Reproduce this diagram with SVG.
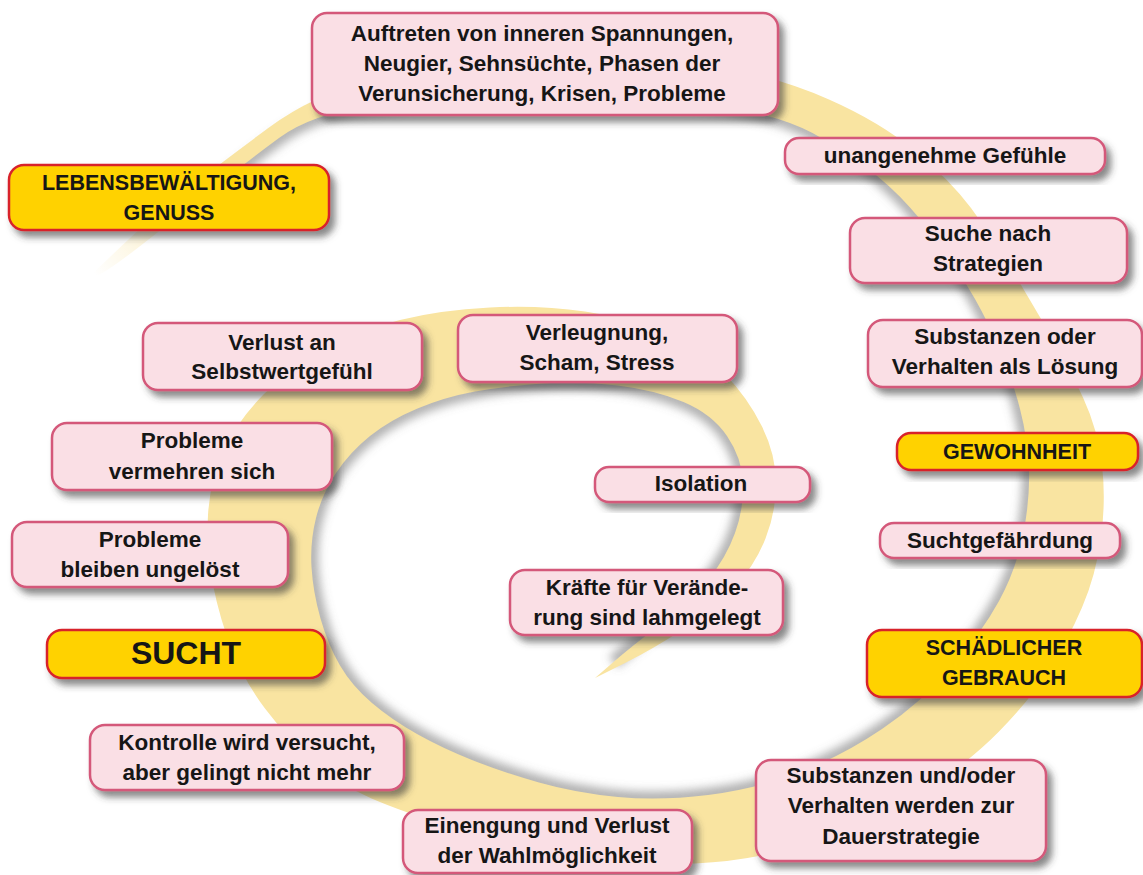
<svg xmlns="http://www.w3.org/2000/svg" width="1143" height="875" viewBox="0 0 1143 875">
<defs>
<filter id="ds" x="-10%" y="-20%" width="125%" height="150%">
<feGaussianBlur in="SourceAlpha" stdDeviation="3.5"/>
<feOffset dx="5" dy="6" result="b"/>
<feFlood flood-color="#3a3a3a" flood-opacity="0.6"/>
<feComposite in2="b" operator="in" result="s"/>
<feMerge><feMergeNode in="s"/><feMergeNode in="SourceGraphic"/></feMerge>
</filter>
<filter id="blur" x="-10%" y="-10%" width="120%" height="120%">
<feGaussianBlur stdDeviation="5"/>
</filter>
<linearGradient id="fade" gradientUnits="userSpaceOnUse" x1="95" y1="275" x2="225" y2="170">
<stop offset="0" stop-color="#fff" stop-opacity="1"/>
<stop offset="1" stop-color="#fff" stop-opacity="0"/>
</linearGradient>
<style>
.pk rect{fill:#fadfe5;stroke:#d4597a;stroke-width:2.5;filter:url(#ds)}
.yl rect{fill:#ffd200;stroke:#d8242c;stroke-width:2.5;filter:url(#ds)}
text{font-family:"Liberation Sans",Arial,sans-serif;font-weight:bold;font-size:22.5px;fill:#161616;text-anchor:middle}
.cap{font-size:21.5px}
.big{font-size:32px}
</style>
</defs>
<rect width="1143" height="875" fill="#fff"/>
<g id="spiral">
<path d="M 613.5,662 Q 632,646 661,624 Q 690,602 708,580 Q 726,558 735,533 Q 744,508 743,483 Q 742,458 727,436 Q 712,414 683.5,402 Q 655,390 617.5,385.5 Q 580,381 542.5,383.5 Q 505,386 475,391.5 Q 445,397 417.5,408.5 Q 390,420 370,436 Q 350,452 336,473 Q 322,494 316,518 Q 310,542 311.5,567 Q 313,592 320.5,618.5 Q 328,645 340,665.5 Q 352,686 372,703 Q 392,720 417,734 Q 442,748 472,760 Q 502,772 539,782.5 Q 576,793 618,797 Q 660,801 708,795 Q 756,789 799,772.5 Q 842,756 882,729 Q 922,702 952,667 Q 982,632 999,601 Q 1016,570 1023,535 Q 1030,500 1029,470 Q 1028,440 1020,409 Q 1012,378 1000,350 Q 988,322 975,299 Q 962,276 946,253 Q 930,230 910,207.5 Q 890,185 865,166.5 Q 840,148 812.5,133 Q 785,118 737.5,109 Q 690,100 625,97.5 Q 560,95 495,97.5 Q 430,100 371.5,106.5 Q 313,113 279,138 Q 245,163 210,191" fill="none" stroke="#6f6f6f" stroke-width="14" stroke-opacity="0.55" filter="url(#blur)"/>
<path fill="#f9e4a1" d="M 88,278 L 121.5,246 Q 155,214 190,187 Q 225,160 269,127.5 Q 313,95 371.5,79.5 Q 430,64 487.5,59.5 Q 545,55 607.5,57.5 Q 670,60 724,68.5 Q 778,77 829,99.5 Q 880,122 915,151 Q 950,180 971,208 Q 992,236 1011,268 Q 1030,300 1049,332.5 Q 1068,365 1083,397.5 Q 1098,430 1102,465 Q 1106,500 1101,537.5 Q 1096,575 1082,607.5 Q 1068,640 1049,670 Q 1030,700 999,731.5 Q 968,763 926.5,789 Q 885,815 840,832.5 Q 795,850 747.5,858 Q 700,866 650,863 Q 600,860 550,851 Q 500,842 451.5,827 Q 403,812 371.5,798.5 Q 340,785 312.5,760 Q 285,735 265,708.5 Q 245,682 232.5,651 Q 220,620 213,585 Q 206,550 208,515 Q 210,480 224,450 Q 238,420 264,394 Q 290,368 325,349 Q 360,330 400,320 Q 440,310 490,307.5 Q 540,305 585,311.5 Q 630,318 665,333 Q 700,348 724,373 Q 748,398 762,426.5 Q 776,455 776,483.5 Q 776,512 765.5,538.5 Q 755,565 735,586.5 Q 715,608 685,628 Q 655,648 625,663 L 595,678 L 613.5,662 Q 632,646 661,624 Q 690,602 708,580 Q 726,558 735,533 Q 744,508 743,483 Q 742,458 727,436 Q 712,414 683.5,402 Q 655,390 617.5,385.5 Q 580,381 542.5,383.5 Q 505,386 475,391.5 Q 445,397 417.5,408.5 Q 390,420 370,436 Q 350,452 336,473 Q 322,494 316,518 Q 310,542 311.5,567 Q 313,592 320.5,618.5 Q 328,645 340,665.5 Q 352,686 372,703 Q 392,720 417,734 Q 442,748 472,760 Q 502,772 539,782.5 Q 576,793 618,797 Q 660,801 708,795 Q 756,789 799,772.5 Q 842,756 882,729 Q 922,702 952,667 Q 982,632 999,601 Q 1016,570 1023,535 Q 1030,500 1029,470 Q 1028,440 1020,409 Q 1012,378 1000,350 Q 988,322 975,299 Q 962,276 946,253 Q 930,230 910,207.5 Q 890,185 865,166.5 Q 840,148 812.5,133 Q 785,118 737.5,109 Q 690,100 625,97.5 Q 560,95 495,97.5 Q 430,100 371.5,106.5 Q 313,113 279,138 Q 245,163 210,191 Q 175,219 141.5,245 Q 108,271 98,275 Z"/>
<polygon points="70,290 70,240 205,145 250,172 120,290" fill="url(#fade)"/>
</g>
<g id="nodes">
<g id="n-auftreten" class="pk"><rect x="312" y="13" width="466" height="102" rx="15"/><text x="542" y="41">Auftreten von inneren Spannungen,</text><text x="542" y="71">Neugier, Sehnsüchte, Phasen der</text><text x="542" y="101">Verunsicherung, Krisen, Probleme</text></g>
<g id="n-lebens" class="yl"><rect x="9" y="165" width="320" height="65" rx="15"/><text class="cap" x="169" y="190">LEBENSBEWÄLTIGUNG,</text><text class="cap" x="169" y="220">GENUSS</text></g>
<g id="n-gefuehle" class="pk"><rect x="785" y="138" width="320" height="36" rx="14"/><text x="945" y="163">unangenehme Gefühle</text></g>
<g id="n-suche" class="pk"><rect x="850" y="218" width="277" height="65" rx="15"/><text x="988" y="241">Suche nach</text><text x="988" y="271">Strategien</text></g>
<g id="n-loesung" class="pk"><rect x="868" y="320" width="274" height="67" rx="15"/><text x="1005" y="344">Substanzen oder</text><text x="1005" y="374">Verhalten als Lösung</text></g>
<g id="n-gewohnheit" class="yl"><rect x="897" y="433" width="241" height="37" rx="14"/><text class="cap" x="1017" y="459">GEWOHNHEIT</text></g>
<g id="n-gefaehrdung" class="pk"><rect x="880" y="523" width="240" height="35" rx="14"/><text x="1000" y="548">Suchtgefährdung</text></g>
<g id="n-schaedlich" class="yl"><rect x="867" y="630" width="275" height="67" rx="15"/><text class="cap" x="1004" y="655">SCHÄDLICHER</text><text class="cap" x="1004" y="685">GEBRAUCH</text></g>
<g id="n-dauer" class="pk"><rect x="756" y="760" width="290" height="101" rx="15"/><text x="901" y="783">Substanzen und/oder</text><text x="901" y="813">Verhalten werden zur</text><text x="901" y="844">Dauerstrategie</text></g>
<g id="n-einengung" class="pk"><rect x="403" y="810" width="289" height="63" rx="15"/><text x="547" y="833">Einengung und Verlust</text><text x="547" y="863">der Wahlmöglichkeit</text></g>
<g id="n-kontrolle" class="pk"><rect x="90" y="725" width="314" height="65" rx="15"/><text x="247" y="750">Kontrolle wird versucht,</text><text x="247" y="780">aber gelingt nicht mehr</text></g>
<g id="n-sucht" class="yl"><rect x="47" y="630" width="278" height="48" rx="15"/><text class="big" x="186" y="664">SUCHT</text></g>
<g id="n-ungeloest" class="pk"><rect x="12" y="522" width="276" height="65" rx="15"/><text x="150" y="547">Probleme</text><text x="150" y="577">bleiben ungelöst</text></g>
<g id="n-vermehren" class="pk"><rect x="52" y="423" width="280" height="67" rx="15"/><text x="192" y="448">Probleme</text><text x="192" y="479">vermehren sich</text></g>
<g id="n-selbstwert" class="pk"><rect x="143" y="323" width="279" height="67" rx="15"/><text x="282" y="350">Verlust an</text><text x="282" y="379">Selbstwertgefühl</text></g>
<g id="n-verleugnung" class="pk"><rect x="458" y="315" width="279" height="67" rx="15"/><text x="597" y="340">Verleugnung,</text><text x="597" y="370">Scham, Stress</text></g>
<g id="n-isolation" class="pk"><rect x="595" y="467" width="215" height="35" rx="14"/><text x="701" y="491">Isolation</text></g>
<g id="n-kraefte" class="pk"><rect x="510" y="570" width="273" height="65" rx="15"/><text x="647" y="595">Kräfte für Verände-</text><text x="647" y="625">rung sind lahmgelegt</text></g>
</g>
</svg>
